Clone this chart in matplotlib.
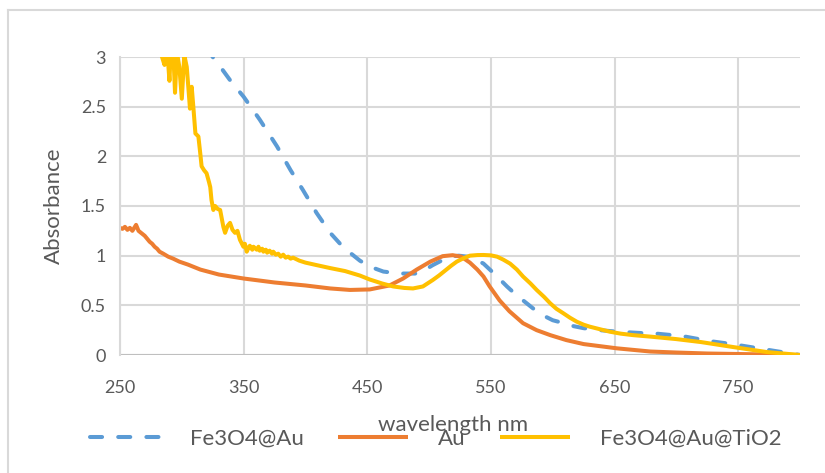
import matplotlib
matplotlib.use("Agg")
import matplotlib.pyplot as plt
from matplotlib.lines import Line2D

plt.rcParams['font.family'] = ['Lato', 'DejaVu Sans']

# Fe3O4@Au (dashed blue)
fe_au_x = [320, 325, 333, 340, 350, 363, 377, 388, 398, 409, 420, 428, 436, 444,
           452, 463, 476, 490, 497, 503, 510, 517, 524, 531, 538, 544, 550, 555,
           563, 570, 576, 584, 592, 600, 609, 617, 625, 638, 652, 673, 684, 705,
           727, 745, 765, 785, 800]
fe_au_y = [3.10, 3.00, 2.87, 2.75, 2.60, 2.37, 2.10, 1.86, 1.66, 1.43, 1.23, 1.12,
           1.03, 0.95, 0.89, 0.84, 0.82, 0.82, 0.86, 0.905, 0.95, 0.99, 1.00, 0.99,
           0.96, 0.92, 0.85, 0.79, 0.69, 0.61, 0.55, 0.47, 0.40, 0.35, 0.32, 0.29,
           0.27, 0.25, 0.235, 0.22, 0.215, 0.19, 0.14, 0.11, 0.07, 0.03, 0.0]

# Au (orange)
au_x = [250, 252, 254, 256, 258, 260, 262, 263, 265, 267, 270, 272, 274, 276,
        278, 280, 282, 285, 289, 293, 298, 305, 315, 330, 350, 375, 400, 420,
        436, 452, 468, 479, 490, 501, 511, 519, 526, 533, 539, 544, 549, 557,
        565, 576, 587, 598, 611, 625, 652, 679, 700, 725, 750, 775, 800]
au_y = [1.28, 1.27, 1.29, 1.26, 1.28, 1.25, 1.29, 1.31, 1.25, 1.23, 1.20, 1.17,
        1.14, 1.12, 1.09, 1.07, 1.04, 1.02, 0.99, 0.97, 0.94, 0.91, 0.86, 0.81,
        0.77, 0.73, 0.70, 0.67, 0.655, 0.66, 0.70, 0.77, 0.86, 0.94, 0.995, 1.005,
        0.99, 0.93, 0.86, 0.79, 0.69, 0.55, 0.44, 0.32, 0.25, 0.20, 0.15, 0.11,
        0.067, 0.035, 0.025, 0.015, 0.01, 0.005, 0.0]

# Fe3O4@Au@TiO2 (yellow), noisy below ~380 nm
tio2_x = [280, 284, 286, 288, 290, 291, 293, 294.5, 296, 298, 300, 302, 304, 306.6,
          308, 309.3, 311, 313.4, 315, 316, 318, 320, 322, 323, 324, 325.5, 327,
          329, 331, 333.6, 335, 337, 339, 341, 343, 345, 347, 349.8, 351, 352.5,
          354, 355, 357, 358, 360.6, 362, 363, 365, 366, 368, 369, 371, 373, 374,
          376, 378, 380, 382, 384, 386, 388, 390, 395, 400, 409, 420, 432, 444,
          452, 462, 471, 480, 487, 495, 503, 508, 514, 518, 522.4, 528, 533, 539,
          544, 550, 555, 560, 565.5, 571, 576, 582, 587, 593, 598, 603, 608.6,
          614, 619.5, 625, 630, 638, 646, 655, 665, 679, 700, 720, 746, 773, 800]
tio2_y = [3.30, 3.00, 2.92, 3.10, 2.76, 3.05, 3.08, 2.64, 3.05, 2.90, 2.58, 3.02,
          2.90, 2.48, 2.70, 2.50, 2.23, 2.20, 2.02, 1.90, 1.86, 1.83, 1.74, 1.69,
          1.56, 1.46, 1.50, 1.47, 1.46, 1.29, 1.23, 1.30, 1.33, 1.26, 1.23, 1.25,
          1.16, 1.09, 1.12, 1.04, 1.08, 1.10, 1.06, 1.09, 1.06, 1.09, 1.05, 1.07,
          1.04, 1.06, 1.03, 1.05, 1.02, 1.04, 1.01, 1.02, 0.99, 1.01, 0.98, 0.99,
          0.97, 0.98, 0.95, 0.93, 0.905, 0.875, 0.845, 0.80, 0.76, 0.72, 0.69,
          0.675, 0.67, 0.69, 0.755, 0.80, 0.86, 0.90, 0.94, 0.975, 1.00, 1.006,
          1.007, 1.003, 0.99, 0.96, 0.92, 0.86, 0.79, 0.72, 0.655, 0.585, 0.52,
          0.465, 0.42, 0.375, 0.335, 0.305, 0.285, 0.26, 0.235, 0.215, 0.20,
          0.185, 0.16, 0.13, 0.08, 0.03, 0.0]

x_ticks = [250, 350, 450, 550, 650, 750]
y_ticks = [0, 0.5, 1, 1.5, 2, 2.5, 3]
y_tick_labels = ["0", "0.5", "1", "1.5", "2", "2.5", "3"]
series_names = ["Fe3O4@Au", "Au", "Fe3O4@Au@TiO2"]

BLUE = "#5B9BD5"
ORANGE = "#ED7D31"
YELLOW = "#FFC000"
GRID = "#D9D9D9"
TEXT = "#595959"

fig = plt.figure(figsize=(8.25, 4.73), dpi=100)
ax = fig.add_axes([120 / 825, 1 - 355 / 473, 680 / 825, 298 / 473])

lw = 2.9
dash = (3.0, 4.0)
ax.plot(fe_au_x, fe_au_y, color=BLUE, lw=lw, dashes=dash,
        dash_capstyle="round", label=series_names[0])
ax.plot(au_x, au_y, color=ORANGE, lw=lw, solid_joinstyle="round",
        label=series_names[1])
ax.plot(tio2_x, tio2_y, color=YELLOW, lw=lw, solid_joinstyle="round",
        label=series_names[2])

ax.set_xlim(250, 800)
ax.set_ylim(0, 3)
ax.set_xticks(x_ticks)
ax.set_yticks(y_ticks)
ax.set_yticklabels(y_tick_labels)
ax.grid(True, color=GRID, lw=1.5)
ax.set_axisbelow(True)
for side in ["top", "right", "bottom"]:
    ax.spines[side].set_visible(False)
ax.spines["left"].set_color(GRID)
ax.spines["left"].set_linewidth(1.5)
ax.axhline(0, color="#BFBFBF", lw=1.5, zorder=1.5)
ax.tick_params(length=0, labelsize=13, colors=TEXT)
ax.tick_params(axis="x", pad=18)
ax.tick_params(axis="y", pad=10)
ax.set_ylabel("Absorbance", fontsize=16, color=TEXT, labelpad=12)

fig.text(453 / 825, 1 - 425 / 473, "wavelength nm", fontsize=16, color=TEXT,
         ha="center", va="center")

handles = [Line2D([], [], color=BLUE, lw=lw, dashes=dash, dash_capstyle="round"),
           Line2D([], [], color=ORANGE, lw=lw, solid_capstyle="butt"),
           Line2D([], [], color=YELLOW, lw=lw, solid_capstyle="butt")]
fig.legend(handles, series_names, loc="center", ncol=3, frameon=False,
           bbox_to_anchor=(436 / 825, 1 - 439 / 473), fontsize=16,
           handlelength=3.15, handletextpad=1.35, columnspacing=1.55,
           labelcolor=TEXT)

# chart frame (continues past the right and bottom edges)
fig.add_artist(Line2D([8 / 825, 1.0], [1 - 10 / 473] * 2, color=GRID, lw=1.5,
                      transform=fig.transFigure))
fig.add_artist(Line2D([8 / 825] * 2, [0.0, 1 - 10 / 473], color=GRID, lw=1.5,
                      transform=fig.transFigure))

fig.savefig("out.png", dpi=100)
